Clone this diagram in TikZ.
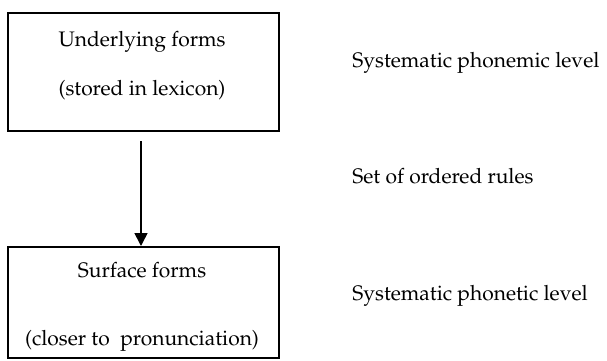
\documentclass[tikz,border=0pt]{standalone}
\usepackage[T1]{fontenc}
\usepackage{mathpazo}
\usetikzlibrary{arrows.meta}
\begin{document}
\begin{tikzpicture}[x=0.5pt,y=-0.5pt,
  formbox/.style={draw=black,line width=0.75pt,minimum width=135.5pt,inner sep=0pt},
  boxtext/.style={anchor=base,inner sep=0pt,font=\fontsize{10.5}{12.5}\selectfont},
  sidetext/.style={anchor=base west,inner sep=0pt,font=\fontsize{10.5}{12.5}\selectfont},
  flow/.style={line width=0.8pt,-{Triangle[length=6.5pt,width=6.5pt]}}]
\useasboundingbox (0,0) rectangle (607,360);
% the two boxes
\node[formbox,minimum height=59pt] (under) at (143.5,72) {};
\node[formbox,minimum height=55.5pt] (surface) at (143.5,302.5) {};
% box contents
\node[boxtext] (u1) at (142,46) {Underlying forms};
\node[boxtext] (u2) at (142,95) {(stored in lexicon)};
\node[boxtext] (s1) at (142,277) {Surface forms};
\node[boxtext] (s2) at (142,345) {(closer to\ \ pronunciation)};
% derivation arrow
\coordinate (astart) at (141,141);
\coordinate (aend) at (141,246);
\draw[flow] (astart) -- (aend);
% level labels
\node[sidetext] (l1) at (352,67) {Systematic phonemic level};
\node[sidetext] (l2) at (352,183) {Set of ordered rules};
\node[sidetext] (l3) at (352,300) {Systematic phonetic level};
\end{tikzpicture}
\end{document}
